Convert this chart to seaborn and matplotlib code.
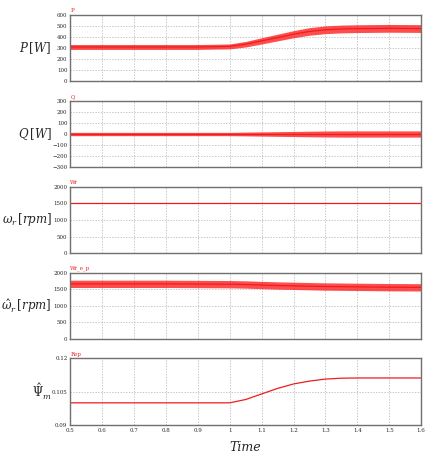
import numpy as np
import pandas as pd
import matplotlib.pyplot as plt
import seaborn as sns

# values (time [s], mean, ripple half-width)
t = [0.5, 0.6, 0.7, 0.8, 0.9, 1.0, 1.05, 1.1, 1.15, 1.2, 1.25, 1.3, 1.35, 1.4, 1.5, 1.6]
p_mean = [310, 310, 310, 310, 310, 315, 335, 365, 395, 425, 450, 465, 472, 475, 478, 476]
p_rip = [22, 22, 22, 22, 22, 22, 25, 28, 30, 32, 34, 35, 35, 35, 35, 35]
q_mean = [0, 0, 0, 0, 0, 0, 0, 0, 0, 0, 0, 0, 0, 0, 0, 0]
q_rip = [15, 15, 15, 15, 15, 15, 17, 19, 21, 23, 25, 27, 28, 28, 28, 28]
w_mean = [1500] * 16
w_rip = [12] * 16
wh_mean = [1660, 1660, 1660, 1660, 1655, 1650, 1640, 1625, 1610, 1600, 1590, 1580, 1575, 1570, 1560, 1555]
wh_rip = [110] * 16
psi = [0.1, 0.1, 0.1, 0.1, 0.1, 0.1, 0.1015, 0.104, 0.1065, 0.1085, 0.1098, 0.1107, 0.1111, 0.1112, 0.1112, 0.1112]

names = ['P', 'Q', 'Wr', 'Wr_e_p', 'Rep']
ylabels = [r'$P\,[W]$', r'$Q\,[W]$', r'$\omega_r\,[rpm]$', r'$\hat{\omega}_r\,[rpm]$', r'$\hat{\Psi}_m$']
means = [p_mean, q_mean, w_mean, wh_mean, psi]
rips = [p_rip, q_rip, w_rip, wh_rip, None]
ylims = [(0, 600), (-300, 300), (0, 2000), (0, 2000), (0.09, 0.12)]
yticks = [np.arange(0, 601, 100), np.arange(-300, 301, 100), np.arange(0, 2001, 500),
          np.arange(0, 2001, 500), [0.09, 0.105, 0.12]]
yticklabels = [None, None, None, None, ['0.09', '0.105', '0.12']]

sns.set_style('white')
plt.rcParams['font.family'] = ['DejaVu Serif']
plt.rcParams['mathtext.fontset'] = 'dejavuserif'
fig, axes = plt.subplots(5, 1, figsize=(4.31, 4.62), dpi=100, sharex=True)
fig.subplots_adjust(left=0.163, right=0.977, top=0.968, bottom=0.08, hspace=0.29)

for i, ax in enumerate(axes):
    df = pd.DataFrame({'t': t, 'v': means[i]})
    if rips[i] is not None:
        lo = np.array(means[i]) - np.array(rips[i])
        hi = np.array(means[i]) + np.array(rips[i])
        ax.fill_between(t, lo, hi, color='#ff2020', alpha=0.8, lw=0)
    sns.lineplot(data=df, x='t', y='v', ax=ax, color='#ee1c1c', lw=0.9)
    ax.set_xlim(0.5, 1.6)
    ax.set_ylim(*ylims[i])
    ax.set_yticks(yticks[i])
    if yticklabels[i]:
        ax.set_yticklabels(yticklabels[i])
    ax.set_xticks(np.arange(0.5, 1.61, 0.1))
    ax.set_xticklabels([f'{x:g}' for x in np.arange(0.5, 1.61, 0.1).round(1)])
    ax.tick_params(labelsize=4, length=0, pad=2)
    ax.grid(True, ls=(0, (2, 2)), color='#b0b0b0', lw=0.5)
    for s in ax.spines.values():
        s.set_color('#707070')
        s.set_linewidth(1)
    ax.set_xlabel('')
    ax.set_ylabel('')
    # row label placed in figure coords so it stays inside the picture
    fig.text(0.12, ax.get_position().y0 + ax.get_position().height / 2, ylabels[i],
             ha='right', va='center', fontsize=8.5, style='italic')
    ax.text(0.0, 1.04, names[i], transform=ax.transAxes, fontsize=4, color='#ee1c1c')

axes[-1].set_xlabel('Time', fontsize=9, style='italic', labelpad=6)
fig.savefig('out.png', dpi=100)
